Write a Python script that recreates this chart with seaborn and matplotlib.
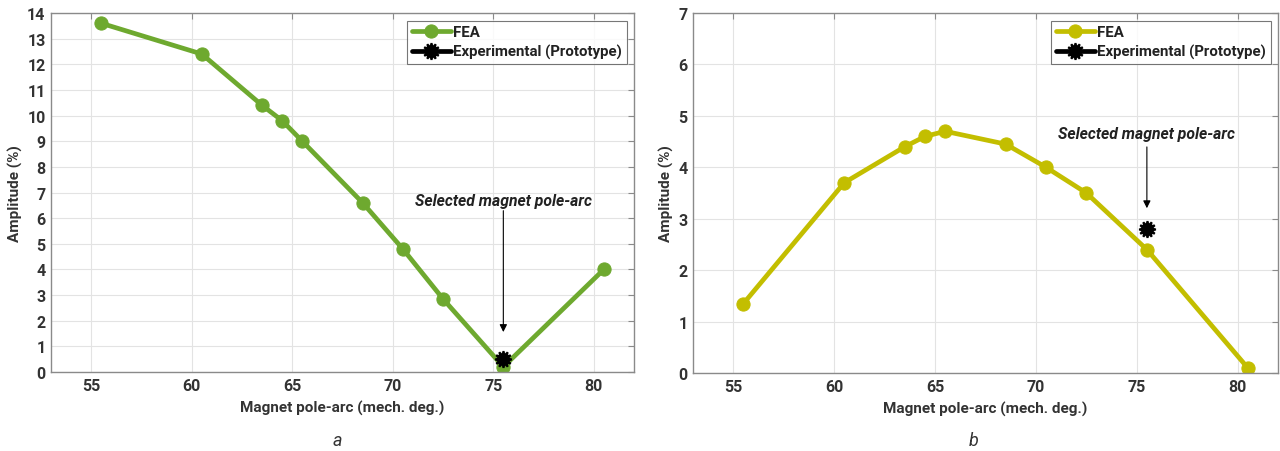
import matplotlib
matplotlib.use("Agg")
import matplotlib.pyplot as plt
import seaborn as sns
import pandas as pd

# ---- data ----
pole_arc = [55.5, 60.5, 63.5, 64.5, 65.5, 68.5, 70.5, 72.5, 75.5, 80.5]
fea_a = [13.6, 12.4, 10.4, 9.8, 9.0, 6.6, 4.8, 2.85, 0.2, 4.0]
fea_b = [1.35, 3.7, 4.4, 4.6, 4.7, 4.45, 4.0, 3.5, 2.4, 0.1]
exp_x = [75.5]
exp_a = [0.5]
exp_b = [2.8]
x_ticks = [55, 60, 65, 70, 75, 80]
y_ticks_a = list(range(0, 15))
y_ticks_b = list(range(0, 8))
panel_labels = ["a", "b"]
annot_text = "Selected magnet pole-arc"
xlabel = "Magnet pole-arc (mech. deg.)"
ylabel = "Amplitude (%)"
legend_labels = ["FEA", "Experimental (Prototype)"]

sns.set_style("whitegrid")
plt.rcParams['font.family'] = ['Roboto', 'DejaVu Sans']

fig = plt.figure(figsize=(12.8, 4.52), dpi=100)
ax1 = fig.add_axes([51/1280, 1-373/452, (634-51)/1280, (373-14)/452])
ax2 = fig.add_axes([693/1280, 1-374/452, (1278-693)/1280, (374-14)/452])

panels = [
    (ax1, fea_a, exp_a, "#6ea92f", y_ticks_a, (0, 14), (6.4, 1.45), 6.7, "a", 337),
    (ax2, fea_b, exp_b, "#c3be00", y_ticks_b, (0, 7), (4.45, 3.15), 4.65, "b", 974),
]

text_col = "#333333"
for ax, fea, expv, col, yt, ylim, arr, ty, lab, labx in panels:
    df = pd.DataFrame({"x": pole_arc, "y": fea})
    sns.lineplot(data=df, x="x", y="y", ax=ax, color=col, linewidth=3.4,
                 marker="o", markersize=9.5, markeredgecolor=col,
                 markerfacecolor=col, label=legend_labels[0])
    dfe = pd.DataFrame({"x": exp_x, "y": expv})
    sns.lineplot(data=dfe, x="x", y="y", ax=ax, color="black", linewidth=3.4,
                 marker=(12, 1, 0), markersize=12, markeredgewidth=1.5,
                 markeredgecolor="black", markerfacecolor="black",
                 label=legend_labels[1])
    ax.set_xlim(53, 82)
    ax.set_ylim(*ylim)
    ax.set_xticks(x_ticks)
    ax.set_yticks(yt)
    ax.grid(True, color="#e3e3e3", linewidth=0.8)
    for s in ax.spines.values():
        s.set_color("#8a8a8a")
        s.set_linewidth(1.0)
        s.set_visible(True)
    ax.tick_params(direction="in", length=4, width=0.8, color="#8a8a8a",
                   top=True, right=True, labelsize=11.5, labelcolor=text_col,
                   pad=4)
    for t in ax.get_xticklabels() + ax.get_yticklabels():
        t.set_fontweight("bold")
    ax.set_xlabel(xlabel, fontsize=11, fontweight="bold", color=text_col, labelpad=5)
    ax.set_ylabel(ylabel, fontsize=11, fontweight="bold", color=text_col, labelpad=3)
    ax.annotate("", xy=(exp_x[0], arr[1]), xytext=(exp_x[0], arr[0]),
                arrowprops=dict(arrowstyle="-|>", color="black", lw=0.8,
                                mutation_scale=11))
    ax.text(exp_x[0], ty, annot_text, ha="center", va="center", fontsize=11.3,
            fontweight="bold", fontstyle="italic", color="#222222")
    leg = ax.legend(loc="upper right", frameon=True, fancybox=False,
                    fontsize=10.8, handlelength=2.6, handletextpad=0.15,
                    borderpad=0.3, labelspacing=0.35, borderaxespad=0.5,
                    edgecolor="#555555")
    leg.get_frame().set_linewidth(0.8)
    for t in leg.get_texts():
        t.set_fontweight("bold")
        t.set_color("#222222")
    fig.text(labx/1280, 1-441/452, lab, ha="center", va="center",
             fontsize=13, fontstyle="italic", color="#333333")

fig.savefig("out.png", dpi=100)
